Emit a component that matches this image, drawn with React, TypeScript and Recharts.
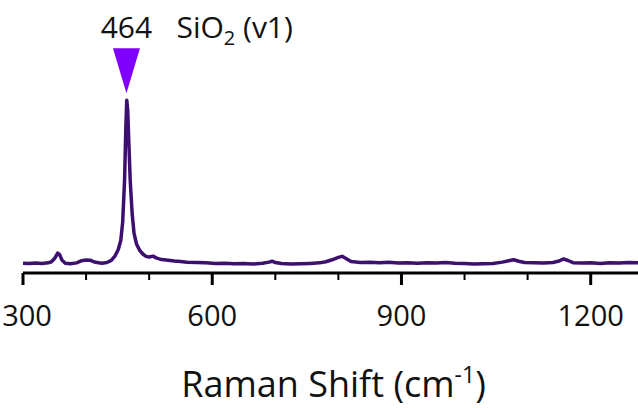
import React from 'react';
import { LineChart, Line, XAxis, YAxis, ReferenceDot } from 'recharts';

// Raman shift (cm-1) and intensity (a.u.)
const shifts = [
  300, 310, 320, 330, 340, 345, 350, 355, 358, 362, 367, 375, 385, 393, 400, 407, 415, 425,
  433, 440, 446, 451, 455, 458, 461, 463, 464.5, 466, 468, 470, 473, 476, 480, 485, 490, 495,
  500, 506, 512, 520, 530, 540, 550, 560, 575, 590, 605, 620, 635, 650, 665, 680, 690, 695,
  700, 710, 725, 740, 755, 770, 780, 790, 800, 806, 812, 820, 835, 850, 865, 880, 895, 910,
  925, 940, 955, 970, 985, 1000, 1015, 1030, 1045, 1060, 1070, 1078, 1086, 1095, 1110, 1125,
  1140, 1150, 1157, 1164, 1172, 1185, 1200, 1215, 1230, 1245, 1260, 1275,
];
const intensity = [
  5.4, 5.2, 5.5, 5.3, 5.6, 6.2, 8.0, 11.0, 10.2, 7.0, 5.4, 5.1, 5.6, 6.8, 7.2, 7.0, 5.9, 5.4,
  5.8, 7.0, 9.5, 13.0, 18.0, 28, 51, 80, 95.5, 90, 70, 51, 33, 22, 16, 12.5, 10.5, 9.2,
  8.8, 9.3, 8.2, 7.4, 7.0, 6.6, 6.3, 6.0, 5.8, 5.6, 5.2, 5.4, 5.1, 5.3, 5.0, 5.4, 6.0, 6.5,
  5.8, 5.2, 5.0, 5.1, 5.3, 5.6, 6.2, 7.3, 8.6, 9.2, 8.0, 6.3, 5.8, 6.0, 5.7, 5.9, 5.5, 5.6,
  5.4, 5.7, 5.5, 5.8, 5.4, 5.2, 5.0, 5.1, 5.3, 6.0, 6.8, 7.3, 6.5, 5.8, 5.6, 5.5,
  5.8, 6.6, 7.8, 6.9, 5.7, 5.5, 5.6, 5.3, 5.7, 5.5, 5.8, 5.6,
];

const xTicks = [300, 400, 500, 600, 700, 800, 900, 1000, 1100, 1200];
const majorTicks = [300, 600, 900, 1200];

const peakShift = 464;
const peakLabel = 'SiO';

const data = shifts.map((s, i) => ({ shift: s, intensity: intensity[i] }));
const peakValue = Math.max(...intensity);

const FONT = '"Open Sans", sans-serif';

const XTick = (props: any) => {
  const { x, y, payload } = props;
  const major = majorTicks.includes(payload.value);
  // first label sits against the left edge, nudge it in
  const dx = payload.value === xTicks[0] ? 4 : 0;
  return (
    <g>
      <line x1={x} x2={x} y1={y} y2={y + (major ? 12 : 7)} stroke="#000" strokeWidth={major ? 3 : 2} />
      {major && (
        <text x={x + dx} y={y + 53} textAnchor="middle" fontSize={29} fill="#111" fontFamily={FONT}>
          {payload.value}
        </text>
      )}
    </g>
  );
};

const AxisTitle = (props: any) => {
  const { viewBox } = props;
  const cx = viewBox.x + viewBox.width / 2 + 3;
  return (
    <text x={cx} y={viewBox.y + 124} textAnchor="middle" fontSize={36} fill="#111" fontFamily={FONT}>
      Raman Shift (cm
      <tspan fontSize={23} dy={-14}>-1</tspan>
      <tspan dy={14}>)</tspan>
    </text>
  );
};

const PeakMarker = (props: any) => {
  const { cx, cy } = props;
  return (
    <g>
      <polygon
        points={`${cx},${cy - 7} ${cx - 13.5},${cy - 52} ${cx + 13.5},${cy - 52}`}
        fill="#8000ff"
      />
      <text x={cx} y={cy - 62} textAnchor="middle" fontSize={30} fill="#111" fontFamily={FONT}>
        {peakShift}
      </text>
      <text x={cx + 50} y={cy - 62} fontSize={30} fill="#111" fontFamily={FONT}>
        {peakLabel}
        <tspan fontSize={20} dy={7}>2</tspan>
        <tspan dy={-7}> (v1)</tspan>
      </text>
    </g>
  );
};

const App: React.FC = () => {
  return (
    <div style={{ position: 'absolute', left: 0, top: 0, background: '#fff' }}>
      <LineChart width={638} height={408} data={data} margin={{ top: 92, right: 0, bottom: 0, left: 23 }}>
        <XAxis
          dataKey="shift"
          type="number"
          domain={[300, 1275]}
          ticks={xTicks}
          interval={0}
          allowDataOverflow
          tickSize={0}
          tickMargin={0}
          tickLine={false}
          tick={<XTick />}
          axisLine={{ stroke: '#000', strokeWidth: 3 }}
          height={135}
          label={<AxisTitle />}
        />
        <YAxis
          type="number"
          domain={[0, 100]}
          width={0}
          tick={false}
          tickLine={false}
          axisLine={{ stroke: '#000', strokeWidth: 3 }}
          allowDataOverflow
        />
        <Line
          type="linear"
          dataKey="intensity"
          stroke="#3d0f6e"
          strokeWidth={3.5}
          strokeLinejoin="round"
          dot={false}
          isAnimationActive={false}
        />
        <ReferenceDot x={peakShift} y={peakValue} ifOverflow="visible" shape={<PeakMarker />} />
      </LineChart>
    </div>
  );
};

export default App;
